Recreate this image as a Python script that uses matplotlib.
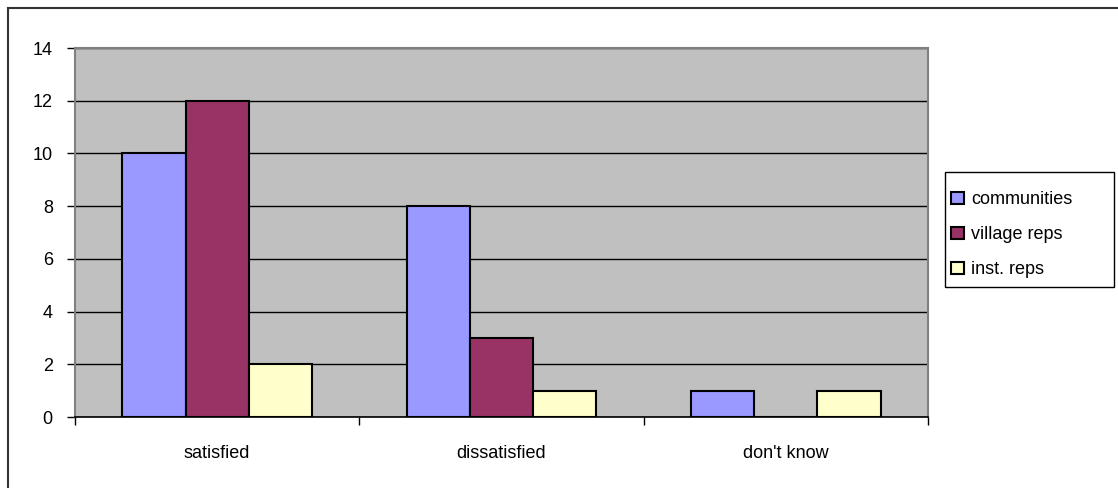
import matplotlib
matplotlib.use("Agg")
import matplotlib.pyplot as plt
import numpy as np
from matplotlib.lines import Line2D
from matplotlib.patches import Rectangle

# Survey responses by group
categories = ["satisfied", "dissatisfied", "don't know"]
series_names = ["communities", "village reps", "inst. reps"]
communities = [10, 8, 1]
village_reps = [12, 3, 0]
inst_reps = [2, 1, 1]
y_ticks = [0, 2, 4, 6, 8, 10, 12, 14]

colors = ["#9999FF", "#993366", "#FFFFCC"]

plt.rcParams['font.family'] = ['Liberation Sans', 'DejaVu Sans']
FS = 13

W, H = 1118, 488
fig = plt.figure(figsize=(W / 100, H / 100), dpi=100)
fig.patch.set_facecolor('white')

ax = fig.add_axes([75 / W, 1 - 417 / H, (928 - 75) / W, (417 - 48) / H])
ax.set_facecolor('#C0C0C0')

x = np.arange(len(categories))
width = 0.222
for i, (vals, name, c) in enumerate(zip([communities, village_reps, inst_reps], series_names, colors)):
    ax.bar(x + (i - 1) * width, vals, width, color=c, edgecolor='black',
           linewidth=1.5, label=name, zorder=3)

ax.set_xlim(-0.5, len(categories) - 0.5)
ax.set_ylim(0, 14)
ax.set_yticks(y_ticks)
ax.set_yticklabels([str(t) for t in y_ticks], fontsize=FS)
ax.yaxis.grid(True, color='black', linewidth=1, zorder=1)
ax.set_axisbelow(True)

# Category boundaries get tick marks; names sit centred on minor ticks
ax.set_xticks(np.arange(-0.5, len(categories), 1.0))
ax.set_xticklabels([])
ax.set_xticks(x, minor=True)
ax.set_xticklabels(categories, minor=True, fontsize=FS)
ax.tick_params(axis='x', which='major', direction='out', length=6, width=1, color='black')
ax.tick_params(axis='x', which='minor', length=0, pad=20)
ax.tick_params(axis='y', direction='out', length=6, width=1, pad=10, color='black')

for side in ['left', 'top', 'right']:
    ax.spines[side].set_color('#808080')
    ax.spines[side].set_linewidth(1.5)
ax.spines['bottom'].set_color('black')
ax.spines['bottom'].set_linewidth(1.2)
ax.spines['bottom'].set_zorder(4)

# Legend box drawn separately so the entries can sit with loose vertical spacing
fig.add_artist(Rectangle((945 / W, 1 - 287 / H), (1114 - 945) / W, (287 - 172) / H,
                         transform=fig.transFigure, facecolor='white',
                         edgecolor='black', linewidth=1, zorder=1))
leg = fig.legend(loc='upper left', bbox_to_anchor=(945 / W, 1 - 185 / H),
                 fontsize=FS, frameon=False,
                 handlelength=0.7, handleheight=0.7, handletextpad=0.4,
                 labelspacing=1.0, borderpad=0.35, borderaxespad=0)
leg.set_zorder(2)
for h in leg.legend_handles:
    h.set_linewidth(1.5)

# Chart area frame
fig.add_artist(Line2D([8 / W, 1], [1 - 8 / H, 1 - 8 / H], color='#333333', linewidth=1.5,
                      transform=fig.transFigure))
fig.add_artist(Line2D([8 / W, 8 / W], [0, 1 - 8 / H], color='#333333', linewidth=1.5,
                      transform=fig.transFigure))

fig.savefig('out.png', dpi=100)
